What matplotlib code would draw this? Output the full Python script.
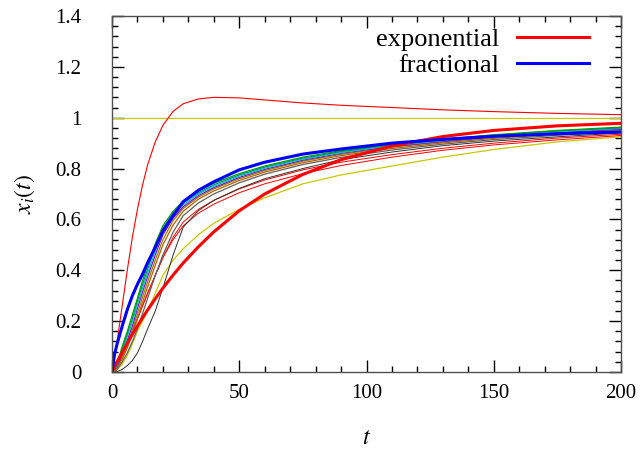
import matplotlib
matplotlib.use("Agg")
import matplotlib.pyplot as plt
from matplotlib.lines import Line2D

plt.rcParams['font.family'] = ['Liberation Serif', 'DejaVu Serif']
plt.rcParams['mathtext.fontset'] = 'stix'

# sample times (read positions)
t = [0, 1, 2, 4, 6, 8, 10, 12, 14, 17, 20, 24, 28, 34, 40, 50, 60, 75, 90, 110, 130, 150, 175, 200]

exponential = [0, 0.02, 0.04, 0.077, 0.113, 0.148, 0.181, 0.213, 0.244, 0.288, 0.33, 0.381, 0.429, 0.493,
               0.551, 0.634, 0.70, 0.777, 0.835, 0.889, 0.926, 0.95, 0.968, 0.978]
fractional = [0, 0.07, 0.11, 0.18, 0.245, 0.30, 0.345, 0.385, 0.43, 0.49, 0.555, 0.615, 0.67, 0.715,
              0.748, 0.795, 0.825, 0.857, 0.877, 0.90, 0.915, 0.927, 0.937, 0.944]

red_overshoot = [0, 0.06, 0.12, 0.26, 0.40, 0.53, 0.64, 0.735, 0.815, 0.905, 0.97, 1.025, 1.055, 1.074,
                 1.08, 1.078, 1.07, 1.058, 1.049, 1.04, 1.031, 1.024, 1.017, 1.012]
unit_line = [1.0] * len(t)
yellow_low = [0, 0.003, 0.01, 0.03, 0.065, 0.11, 0.16, 0.2, 0.24, 0.31, 0.38, 0.44, 0.485, 0.54,
              0.585, 0.64, 0.685, 0.74, 0.775, 0.81, 0.845, 0.875, 0.905, 0.925]
black_sigmoid = [0, 0, 0.002, 0.01, 0.025, 0.045, 0.075, 0.12, 0.17, 0.24, 0.33, 0.46, 0.57, 0.635,
                 0.675, 0.722, 0.76, 0.80, 0.835, 0.865, 0.89, 0.908, 0.925, 0.94]
red_low_a = [0, 0.005, 0.02, 0.06, 0.11, 0.16, 0.21, 0.26, 0.31, 0.38, 0.45, 0.53, 0.59, 0.64,
             0.675, 0.72, 0.755, 0.795, 0.825, 0.855, 0.88, 0.90, 0.92, 0.935]
red_low_b = [0, 0.005, 0.02, 0.06, 0.11, 0.16, 0.21, 0.26, 0.31, 0.38, 0.45, 0.52, 0.575, 0.625,
             0.66, 0.705, 0.74, 0.78, 0.812, 0.845, 0.872, 0.893, 0.913, 0.93]

bundle_1 = [0, 0.012, 0.035, 0.10, 0.16, 0.225, 0.29, 0.36, 0.42, 0.505, 0.575, 0.632, 0.672, 0.712,
            0.742, 0.78, 0.81, 0.845, 0.87, 0.895, 0.915, 0.933, 0.95, 0.963]
bundle_2 = [0, 0.01, 0.03, 0.09, 0.15, 0.21, 0.28, 0.345, 0.405, 0.49, 0.565, 0.625, 0.665, 0.705,
            0.736, 0.775, 0.806, 0.841, 0.867, 0.893, 0.913, 0.931, 0.948, 0.96]
bundle_3 = [0, 0.008, 0.026, 0.08, 0.14, 0.195, 0.265, 0.33, 0.39, 0.475, 0.55, 0.615, 0.658, 0.70,
            0.73, 0.77, 0.801, 0.837, 0.863, 0.89, 0.91, 0.928, 0.945, 0.958]
bundle_4 = [0, 0.007, 0.022, 0.07, 0.125, 0.18, 0.25, 0.315, 0.375, 0.46, 0.54, 0.605, 0.65, 0.694,
            0.725, 0.765, 0.797, 0.833, 0.86, 0.887, 0.907, 0.925, 0.942, 0.955]
bundle_5 = [0, 0.005, 0.018, 0.06, 0.11, 0.165, 0.23, 0.295, 0.355, 0.44, 0.52, 0.595, 0.643, 0.688,
            0.72, 0.76, 0.792, 0.829, 0.856, 0.884, 0.905, 0.923, 0.94, 0.953]
bundle_6 = [0, 0.004, 0.014, 0.05, 0.095, 0.15, 0.21, 0.275, 0.335, 0.42, 0.5, 0.578, 0.632, 0.68,
            0.712, 0.753, 0.786, 0.823, 0.851, 0.879, 0.901, 0.919, 0.936, 0.949]
bundle_7 = [0, 0.003, 0.01, 0.04, 0.075, 0.12, 0.17, 0.23, 0.29, 0.38, 0.46, 0.55, 0.615, 0.665,
            0.70, 0.744, 0.778, 0.816, 0.844, 0.873, 0.896, 0.914, 0.931, 0.946]
bundles = [bundle_1, bundle_2, bundle_3, bundle_4, bundle_5, bundle_6, bundle_7]
bundle_colors = ['#00a000', '#008b8b', '#00c8c8', '#9400d3', '#8b8b00', '#c05a00', '#606060']

xticks = [0, 50, 100, 150, 200]
yticks = [0, 0.2, 0.4, 0.6, 0.8, 1.0, 1.2, 1.4]
ytick_labels = ['0', '0.2', '0.4', '0.6', '0.8', '1', '1.2', '1.4']
legend_labels = ['exponential', 'fractional']

fig = plt.figure(figsize=(6.43, 4.53), dpi=100)
ax = fig.add_axes([112/643, 81/453, 509/643, 356/453])

YEL = '#c8c800'
ax.plot(t, unit_line, color=YEL, lw=0.9)
ax.plot(t, red_overshoot, color='red', lw=0.8)
ax.plot(t, yellow_low, color=YEL, lw=0.9)
ax.plot(t, red_low_b, color='red', lw=0.7)
ax.plot(t, red_low_a, color='red', lw=0.7)
ax.plot(t, black_sigmoid, color='#303030', lw=0.7)
for vals, c in zip(bundles[::-1], bundle_colors[::-1]):
    ax.plot(t, vals, color=c, lw=0.9)
ax.plot(t, exponential, color='red', lw=2.2)
ax.plot(t, fractional, color='blue', lw=2.2)

ax.set_xlim(0, 200)
ax.set_ylim(0, 1.4)
ax.set_xticks(xticks)
ax.set_xticklabels([str(v) for v in xticks])
ax.set_yticks(yticks)
ax.set_yticklabels(ytick_labels)
ax.set_xticks(list(range(0, 201, 10)), minor=True)
ax.set_yticks([i * 0.04 for i in range(36)], minor=True)
ax.tick_params(which='both', direction='in', top=True, right=True, labelsize=15, color='black', width=1.0)
ax.tick_params(which='major', length=8.5)
ax.tick_params(which='minor', length=4.3)
ax.tick_params(axis='x', which='major', pad=9)
ax.tick_params(axis='y', which='major', pad=22)
for s in ax.spines.values():
    s.set_color('#505050')
    s.set_linewidth(1.0)

ax.set_xlabel('$t$', fontsize=17, labelpad=18)
ax.set_ylabel('$x_i(t)$', fontsize=17, labelpad=13)

handles = [Line2D([], [], color='red', lw=2.2), Line2D([], [], color='blue', lw=2.2)]
ax.legend(handles, legend_labels, loc='upper right', bbox_to_anchor=(0.937, 0.968), frameon=False,
          markerfirst=False, fontsize=19, handlelength=2.73, handletextpad=0.68, labelspacing=0.1,
          borderaxespad=0, borderpad=0)

fig.savefig('out.png', dpi=100)
